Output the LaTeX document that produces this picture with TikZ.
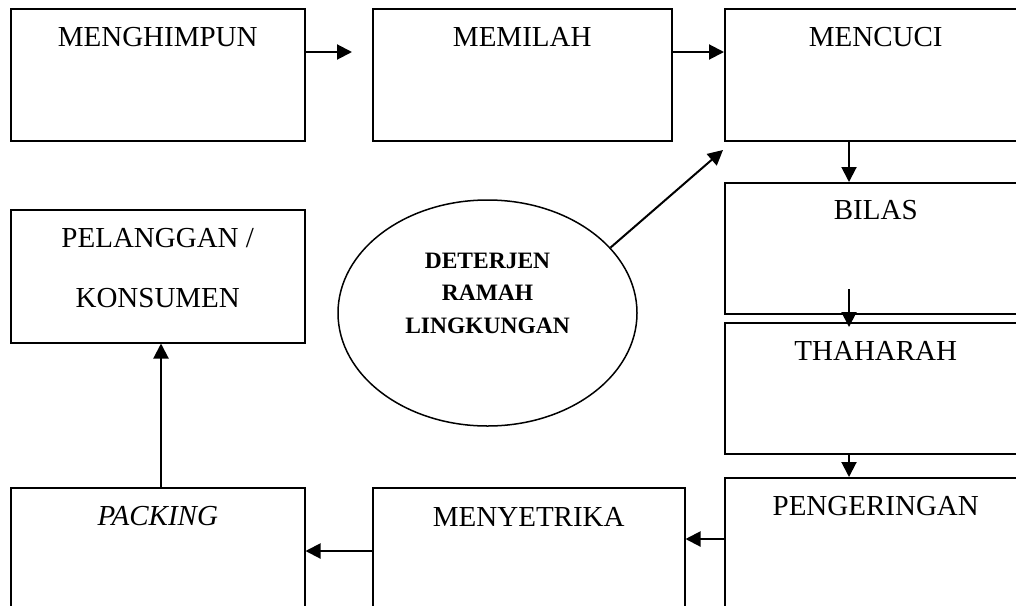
\documentclass[tikz,border=0pt]{standalone}
\usepackage{fontspec}
\setmainfont{Liberation Serif}
\usetikzlibrary{arrows.meta,shapes.geometric,calc}
\tikzset{
  stepbox/.style={draw, line width=1.5pt, anchor=north west, inner xsep=0pt, inner ysep=0pt,
    text height=38pt, text depth=94pt, font=\fontsize{29}{60}\selectfont},
  arr/.style={line width=2pt, -{Triangle[length=15pt,width=15pt]}},
}
\begin{document}
\begin{tikzpicture}[x=1pt,y=-1pt]
\useasboundingbox (0,0) rectangle (1016,605);
\clip (0,0) rectangle (1016,605);
% boxes
\node[stepbox, minimum width=294pt] (hm) at (10,8) {MENGHIMPUN};
\node[stepbox, minimum width=299pt] (mm) at (372,8) {MEMILAH};
\node[stepbox, minimum width=302pt] (mc) at (724,8) {MENCUCI};
\node[stepbox, minimum width=302pt, text height=37pt] (bl) at (724,182) {BILAS};
\node[stepbox, minimum width=302pt, text depth=93pt] (th) at (724,322) {THAHARAH};
\node[stepbox, minimum width=302pt, text depth=95pt] (pg) at (724,477) {PENGERINGAN};
\node[stepbox, minimum width=312pt, text height=39pt] (my) at (372,487) {MENYETRIKA};
\node[stepbox, minimum width=294pt] (pk) at (10,487) {\itshape PACKING};
\node[stepbox, minimum width=294pt, text depth=95pt] (pl) at (10,209)
  {\begin{tabular}[t]{@{}c@{}}PELANGGAN /\\KONSUMEN\end{tabular}};
% ellipse
\node[ellipse, draw, line width=1.5pt, minimum width=299pt, minimum height=226pt, inner sep=0pt,
  text height=20pt, text depth=110pt, font=\fontsize{23.5}{32.5}\selectfont\bfseries] (el) at (487.5,313)
  {\begin{tabular}[t]{@{}c@{}}DETERJEN\\RAMAH\\LINGKUNGAN\end{tabular}};
% helper coordinates
\coordinate (c1) at (352,52);
\coordinate (c2) at (849,289);
\coordinate (c3) at (723,150);
\coordinate (p1) at ([yshift=-62pt]pg.north west);
\coordinate (p2) at ([yshift=-64pt]my.north west);
% connectors
\draw[arr] ([yshift=-44pt]hm.north east) -- (c1);
\draw[arr] ([yshift=-44pt]mm.north east) -- ([yshift=-44pt]mc.north west);
\draw[arr] ([xshift=125pt]mc.south west) -- ([xshift=125pt]bl.north west);
\draw[arr] (c2) -- ([xshift=125pt,yshift=-5pt]th.north west);
\draw[arr] ([xshift=125pt]th.south west) -- ([xshift=125pt]pg.north west);
\draw[arr] (p1) -- (p1 -| my.east);
\draw[arr] (p2) -- (p2 -| pk.east);
\draw[arr] ([xshift=151pt]pk.north west) -- ([xshift=151pt]pl.south west);
\draw[arr] (el.28) -- (c3);
\end{tikzpicture}
\end{document}
